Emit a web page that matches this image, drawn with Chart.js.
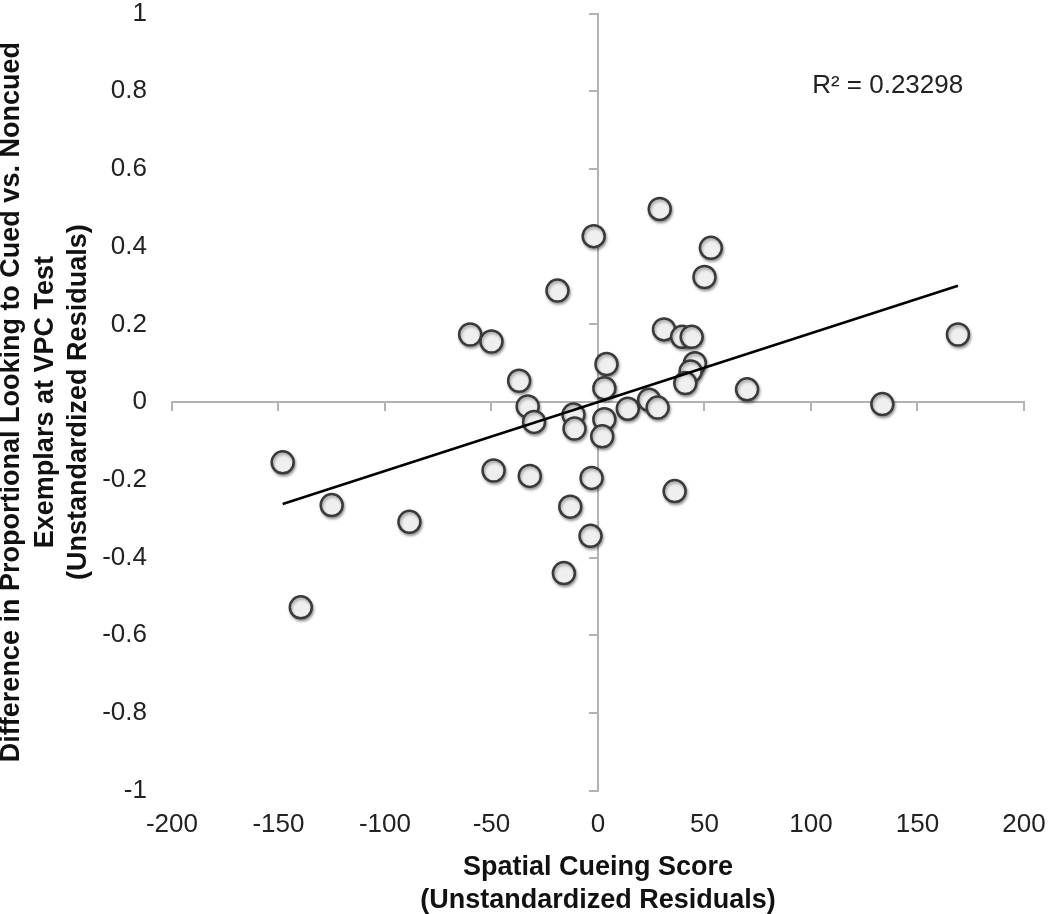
<!DOCTYPE html>
<html>
<head>
<meta charset="utf-8">
<script src="https://cdn.jsdelivr.net/npm/chart.js@4.4.1/dist/chart.umd.min.js"></script>
<style>
  html, body { margin: 0; padding: 0; background: #fff; }
  #contenedor { width: 1050px; height: 914px; position: relative; }
</style>
</head>
<body>
<div id="contenedor"><canvas id="grafico"></canvas></div>
<script>
// Residuos: puntuación de orientación espacial (x) vs. diferencia de mirada (y)
const cueingScore = [-2, -19, -60, -50, 4, -37, 3, -33, -30, -11.5, -11, 3, 2, 14, -148,
  29, 53, 50, 31, 39.5, 44, 45.5, 43.5, 41, 70, 169, 133.5, 24, 28,
  -125, -88.5, -139.5, -49, -32, -3, -13, -3.5, -16, 36];
const lookingDiff = [0.427, 0.287, 0.174, 0.156, 0.098, 0.055, 0.036, -0.011, -0.051, -0.032, -0.068, -0.044, -0.088, -0.017, -0.155,
  0.497, 0.397, 0.322, 0.187, 0.168, 0.168, 0.100, 0.079, 0.049, 0.033, 0.174, -0.005, 0.006, -0.014,
  -0.265, -0.308, -0.528, -0.176, -0.190, -0.195, -0.269, -0.344, -0.440, -0.229];

const xTickValues = [-200, -150, -100, -50, 0, 50, 100, 150, 200];
const yTickValues = [-1, -0.8, -0.6, -0.4, -0.2, 0, 0.2, 0.4, 0.6, 0.8, 1];

const r2Label = 'R\u00b2 = 0.23298';
const r2Pos = [136, 0.815];

const FUENTE = "'Liberation Sans', Arial, sans-serif";
const GRIS_EJE = '#b3b3b3';

// recta de regresión por mínimos cuadrados
const n = cueingScore.length;
const mx = cueingScore.reduce((a, b) => a + b, 0) / n;
const my = lookingDiff.reduce((a, b) => a + b, 0) / n;
let sxy = 0, sxx = 0;
cueingScore.forEach((x, i) => {
    sxy += (x - mx) * (lookingDiff[i] - my);
    sxx += (x - mx) * (x - mx);
});
const pendiente = sxy / sxx;
const intercepto = my - pendiente * mx;
const xMin = Math.min(...cueingScore);
const xMax = Math.max(...cueingScore);

const puntos = cueingScore.map((x, i) => ({ x: x, y: lookingDiff[i] }));
const tendencia = [
    { x: xMin, y: intercepto + pendiente * xMin },
    { x: xMax, y: intercepto + pendiente * xMax }
];

const fijarTicks = valores => axis => {
    axis.ticks = valores.map(v => ({ value: v }));
};

// sombra suave de los círculos
const sombra = {
    id: 'sombra',
    beforeDatasetDraw(chart, args) {
        if (args.index !== 1) return;
        const ctx = chart.ctx;
        ctx.save();
        ctx.shadowColor = 'rgba(0,0,0,0.35)';
        ctx.shadowBlur = 3;
        ctx.shadowOffsetX = 1;
        ctx.shadowOffsetY = 2;
    },
    afterDatasetDraw(chart, args) {
        if (args.index !== 1) return;
        chart.ctx.restore();
    }
};

const etiquetaR2 = {
    id: 'etiquetaR2',
    afterDraw(chart) {
        const { ctx, scales } = chart;
        ctx.save();
        ctx.font = '26px ' + FUENTE;
        ctx.fillStyle = '#222';
        ctx.textAlign = 'center';
        ctx.textBaseline = 'middle';
        ctx.fillText(r2Label, scales.x.getPixelForValue(r2Pos[0]), scales.y.getPixelForValue(r2Pos[1]));
        ctx.restore();
    }
};

const ejeCentrado = {
    ticks: { display: false },
    grid: { drawOnChartArea: false, drawTicks: true, tickLength: 8, color: GRIS_EJE, lineWidth: 2 },
    border: { display: true, color: GRIS_EJE, width: 2 }
};

new Chart(document.getElementById('grafico'), {
    type: 'scatter',
    data: {
        datasets: [
            {
                type: 'line',
                data: tendencia,
                borderColor: '#000',
                borderWidth: 2.5,
                pointRadius: 0,
                fill: false,
                order: 0
            },
            {
                data: puntos,
                backgroundColor: '#efefef',
                borderColor: '#3a3a3a',
                borderWidth: 2.5,
                pointRadius: 11,
                order: 1
            }
        ]
    },
    options: {
        responsive: true,
        maintainAspectRatio: false,
        animation: false,
        layout: { padding: { top: 10.7, right: 26, bottom: 0, left: 0 } },
        plugins: {
            legend: { display: false },
            tooltip: { enabled: false }
        },
        scales: {
            x: {
                type: 'linear',
                min: -200, max: 200,
                afterBuildTicks: fijarTicks(xTickValues),
                grid: { display: false, drawTicks: true, tickLength: 14.7 },
                border: { display: false },
                ticks: {
                    padding: 4,
                    color: '#222',
                    font: { family: FUENTE, size: 26 },
                    callback: v => String(v)
                },
                title: {
                    display: true,
                    text: ['Spatial Cueing Score', '(Unstandardized Residuals)'],
                    color: '#111',
                    font: { family: FUENTE, size: 27, weight: 'bold', lineHeight: 1.24 },
                    padding: { top: 6.15, bottom: -3.75 }
                }
            },
            y: {
                type: 'linear',
                min: -1, max: 1,
                afterBuildTicks: fijarTicks(yTickValues),
                grid: { display: false, drawTicks: true, tickLength: 20 },
                border: { display: false },
                ticks: {
                    padding: 5,
                    color: '#222',
                    font: { family: FUENTE, size: 26, lineHeight: 0.4 },
                    callback: v => String(v)
                },
                title: {
                    display: true,
                    text: ['Difference in Proportional Looking to Cued vs. Noncued',
                           'Exemplars at VPC Test', '(Unstandardized Residuals)'],
                    color: '#111',
                    font: { family: FUENTE, size: 27, weight: 'bold', lineHeight: 1.24 },
                    padding: { top: -4.75, bottom: 1.45 }
                }
            },
            ejeX0: Object.assign({}, ejeCentrado, {
                type: 'linear', axis: 'x', position: { y: 0 },
                min: -200, max: 200,
                afterBuildTicks: fijarTicks(xTickValues)
            }),
            ejeY0: Object.assign({}, ejeCentrado, {
                type: 'linear', axis: 'y', position: { x: 0 },
                min: -1, max: 1,
                afterBuildTicks: fijarTicks(yTickValues)
            })
        }
    },
    plugins: [sombra, etiquetaR2]
});
</script>
</body>
</html>
